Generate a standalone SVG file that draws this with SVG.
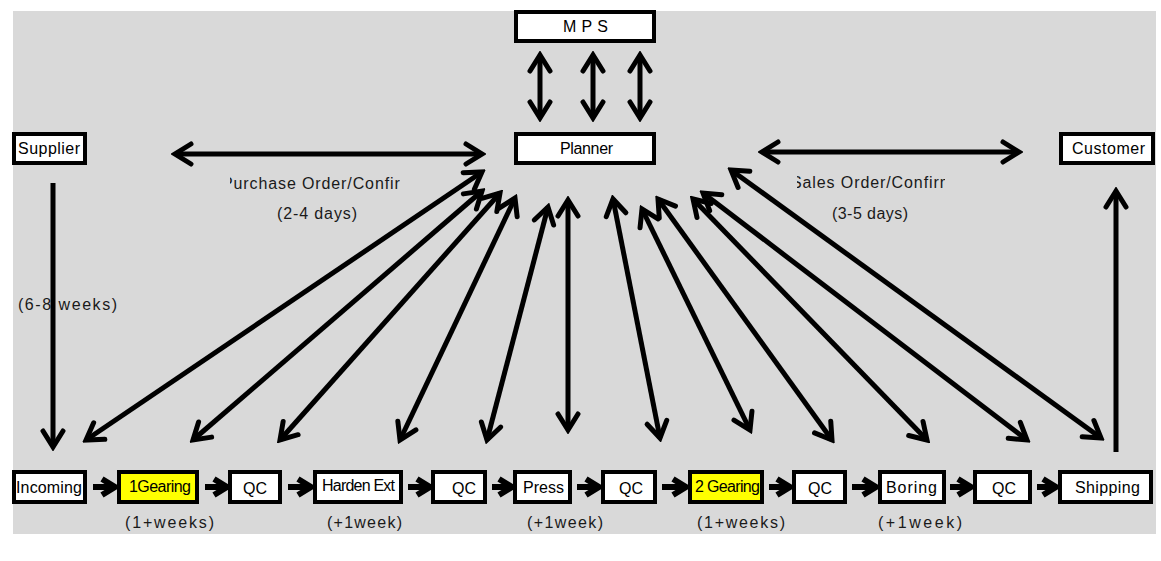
<svg xmlns="http://www.w3.org/2000/svg" width="1161" height="561" viewBox="0 0 1161 561">
<defs>
<style>
.bg{fill:#d9d9d9}
.box{fill:#fff;stroke:#000;stroke-width:4}
.hl{fill:#ffff00;stroke:#000;stroke-width:4}
.t{font-family:"Liberation Sans",Arial,sans-serif;font-size:16px;fill:#000}
.lbl{font-family:"Liberation Sans",Arial,sans-serif;font-size:16px;fill:#1a1a1a}
.big{fill:none;stroke:#000;stroke-width:5;marker-start:url(#h);marker-end:url(#h)}
.one{fill:none;stroke:#000;stroke-width:5;marker-end:url(#h)}
.ch{fill:none;stroke:#000;stroke-width:6;stroke-linejoin:miter}
</style>
<marker id="h" markerUnits="userSpaceOnUse" viewBox="-22 -14 26 28" refX="0" refY="0" markerWidth="26" markerHeight="28" orient="auto-start-reverse">
<path d="M-16,-10 L0,0 L-16,10" fill="none" stroke="#000" stroke-width="5" stroke-linecap="round"/>
</marker>
<clipPath id="cp1"><rect x="230" y="170" width="170" height="25"/></clipPath>
<clipPath id="cp2"><rect x="797" y="170" width="148" height="25"/></clipPath>
</defs>
<rect class="bg" x="13" y="11" width="1143" height="523"/>

<g id="connectors">
<path class="big" d="M540,55 V118"/>
<path class="big" d="M593,55 V118"/>
<path class="big" d="M640,55 V118"/>
<path class="big" d="M175,154 H482"/>
<path class="big" d="M762,152 H1019"/>
<path class="one" d="M53,183 V447"/>
<path class="one" d="M1116,452 V191"/>
<path class="big" d="M86,440 L482,172"/>
<path class="big" d="M193,440 L482,191"/>
<path class="big" d="M280,440 L500,193"/>
<path class="big" d="M400,440 L515,198"/>
<path class="big" d="M487,440 L548,207"/>
<path class="big" d="M568,430 L568,200"/>
<path class="big" d="M660,438 L613,199"/>
<path class="big" d="M750,430 L642,209"/>
<path class="big" d="M832,440 L658,199"/>
<path class="big" d="M927,440 L693,199"/>
<path class="big" d="M1027,440 L703,193"/>
<path class="big" d="M1101,438 L731,170"/>
<path class="ch" d="M93,487 H113 M102,479 L115,487 L102,495"/>
<path class="ch" d="M205,487 H225 M214,479 L227,487 L214,495"/>
<path class="ch" d="M288,487 H309 M298,479 L311,487 L298,495"/>
<path class="ch" d="M408,487 H427 M417,479 L430,487 L417,495"/>
<path class="ch" d="M492,487 H509 M499,479 L512,487 L499,495"/>
<path class="ch" d="M577,487 H597 M586,479 L599,487 L586,495"/>
<path class="ch" d="M662,487 H684 M673,479 L686,487 L673,495"/>
<path class="ch" d="M769,487 H788 M777,479 L790,487 L777,495"/>
<path class="ch" d="M852,487 H874 M863,479 L876,487 L863,495"/>
<path class="ch" d="M950,487 H969 M958,479 L971,487 L958,495"/>
<path class="ch" d="M1037,487 H1054 M1043,479 L1056,487 L1043,495"/>
</g>

<g id="labels">
<text class="lbl" clip-path="url(#cp1)" x="222" y="189" textLength="192" lengthAdjust="spacing">Purchase Order/Confirm</text>
<text class="lbl" x="277" y="219" textLength="80" lengthAdjust="spacing">(2-4 days)</text>
<text class="lbl" clip-path="url(#cp2)" x="791" y="188" textLength="162" lengthAdjust="spacing">Sales Order/Confirm</text>
<text class="lbl" x="832" y="219" textLength="76" lengthAdjust="spacing">(3-5 days)</text>
<text class="lbl" x="18" y="310" textLength="99" lengthAdjust="spacing">(6-8 weeks)</text>
<text class="lbl" x="125" y="528" textLength="89" lengthAdjust="spacing">(1+weeks)</text>
<text class="lbl" x="327" y="528" textLength="75" lengthAdjust="spacing">(+1week)</text>
<text class="lbl" x="527" y="528" textLength="76" lengthAdjust="spacing">(+1week)</text>
<text class="lbl" x="697" y="528" textLength="88" lengthAdjust="spacing">(1+weeks)</text>
<text class="lbl" x="878" y="528" textLength="84" lengthAdjust="spacing">(+1week)</text>
</g>

<g id="mps"><rect class="box" x="516" y="12" width="138" height="29"/><text class="t" x="563" y="32" font-size="17" textLength="45" lengthAdjust="spacing">MPS</text></g>
<g id="planner"><rect class="box" x="516" y="134" width="138" height="29"/><text class="t" x="560" y="154" font-size="15" textLength="53" lengthAdjust="spacing">Planner</text></g>
<g id="supplier"><rect class="box" x="14" y="134" width="71" height="29"/><text class="t" x="18" y="154" font-size="15" textLength="62" lengthAdjust="spacing">Supplier</text></g>
<g id="customer"><rect class="box" x="1061" y="134" width="92" height="29"/><text class="t" x="1072" y="154" textLength="73" lengthAdjust="spacing">Customer</text></g>

<g id="incoming"><rect class="box" x="14" y="472" width="71" height="30"/><text class="t" x="16" y="493" font-size="15" textLength="66" lengthAdjust="spacing">Incoming</text></g>
<g id="gearing1"><rect class="hl" x="119" y="472" width="78" height="30"/><text class="t" x="129" y="492" font-size="14" textLength="62" lengthAdjust="spacing">1Gearing</text></g>
<g id="qc1"><rect class="box" x="230" y="472" width="50" height="30"/><text class="t" x="255" y="494" text-anchor="middle">QC</text></g>
<g id="harden"><rect class="box" x="315" y="472" width="86" height="30"/><text class="t" x="322" y="491" font-size="13" textLength="73" lengthAdjust="spacing">Harden Ext</text></g>
<g id="qc2"><rect class="box" x="433" y="472" width="52" height="30"/><text class="t" x="464" y="494" text-anchor="middle">QC</text></g>
<g id="press"><rect class="box" x="515" y="472" width="55" height="30"/><text class="t" x="523" y="493" textLength="41" lengthAdjust="spacing">Press</text></g>
<g id="qc3"><rect class="box" x="603" y="472" width="52" height="30"/><text class="t" x="631" y="494" text-anchor="middle">QC</text></g>
<g id="gearing2"><rect class="hl" x="690" y="472" width="72" height="30"/><text class="t" x="695" y="492" font-size="14" textLength="65" lengthAdjust="spacing">2 Gearing</text></g>
<g id="qc4"><rect class="box" x="794" y="472" width="51" height="30"/><text class="t" x="820" y="494" text-anchor="middle">QC</text></g>
<g id="boring"><rect class="box" x="880" y="472" width="64" height="30"/><text class="t" x="886" y="493" textLength="51" lengthAdjust="spacing">Boring</text></g>
<g id="qc5"><rect class="box" x="975" y="472" width="55" height="30"/><text class="t" x="1004" y="494" text-anchor="middle">QC</text></g>
<g id="shipping"><rect class="box" x="1060" y="472" width="91" height="30"/><text class="t" x="1075" y="493" textLength="65" lengthAdjust="spacing">Shipping</text></g>
</svg>
